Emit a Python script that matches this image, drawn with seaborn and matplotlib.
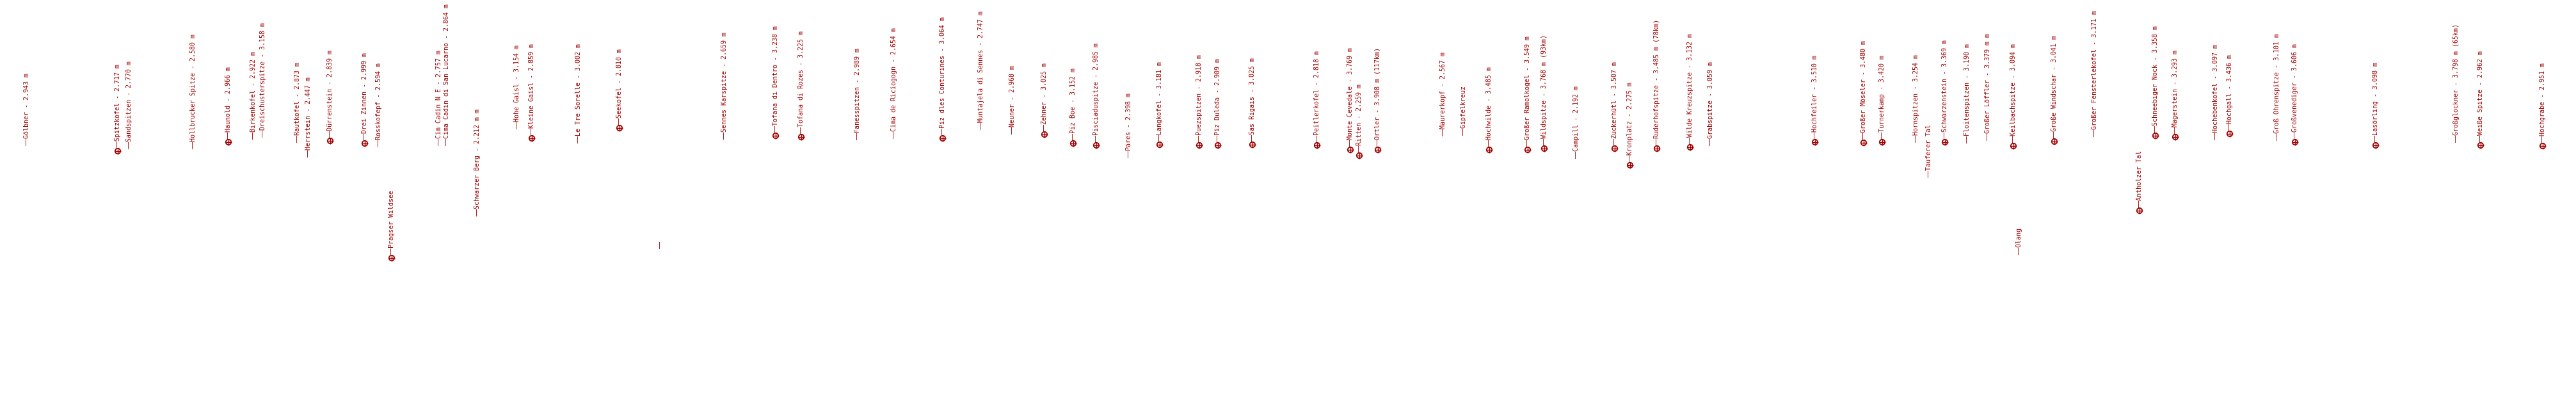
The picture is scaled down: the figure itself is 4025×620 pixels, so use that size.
import matplotlib
matplotlib.use("Agg")
import matplotlib.pyplot as plt
import seaborn as sns
import pandas as pd

# Peak labels along the panorama: name, horizontal position, label foot, has marker
names = [
    "Gölbner - 2.943 m", "Spitzkofel - 2.717 m", "Sandspitzen - 2.770 m",
    "Hollbrucker Spitze - 2.580 m", "Haunold - 2.966 m", "Birkenkofel - 2.922 m",
    "Dreischusterspitze - 3.158 m", "Rautkofel - 2.873 m", "Herrstein - 2.447 m",
    "Dürrenstein - 2.839 m", "Drei Zinnen - 2.999 m", "Rosskofepf - 2.594 m",
    "Pragser Wildsee", "Cim Cadin N E - 2.757 m", "Cima Cadin di San Lucarno - 2.864 m",
    "Schwarzer Berg - 2.212 m m", "Hohe Gaisl - 3.154 m", "Kleine Gaisl - 2.859 m",
    "Le Tre Sorelle - 3.002 m", "Seekofel - 2.810 m", "",
    "Sennes Karspitze - 2.659 m", "Tofana di Dentro - 3.238 m", "Tofana di Rozes - 3.225 m",
    "Fanesspitzen - 2.989 m", "Cima de Riciogogn - 2.654 m", "Piz dles Conturines - 3.064 m",
    "Muntajela di Sennes - 2.747 m", "Neuner - 2.968 m", "Zehner - 3.025 m",
    "Piz Boe - 3.152 m", "Pisciaduspitze - 2.985 m", "Pares - 2.398 m",
    "Langkofel - 3.181 m", "Puezspitzen - 2.918 m", "Piz Duleda - 2.909 m",
    "Sas Rigais - 3.025 m", "Peitlerkofel - 2.818 m", "Monte Cevedale - 3.769 m",
    "Ritten - 2.259 m", "Ortler - 3.908 m (117km)", "Maurerkopf - 2.567 m",
    "Gipfelkreuz", "Hochwilde - 3.485 m", "Großer Ramolkogel - 3.549 m",
    "Wildspitze - 3.768 m (93km)", "Campill - 2.192 m", "Zuckerhütl - 3.507 m",
    "Kronplatz - 2.275 m", "Ruderhofspitze - 3.485 m (78km)", "Wilde Kreuzspitze - 3.132 m",
    "Grabspitze - 3.059 m", "Hochfeiler - 3.510 m", "Großer Möseler - 3.480 m",
    "Turnerkamp - 3.420 m", "Hornspitzen - 3.254 m", "Tauferer Tal",
    "Schwarzenstein - 3.369 m", "Floitenspitzen - 3.190 m", "Großer Löffler - 3.379 m m",
    "Keilbachspitze - 3.094 m", "Olang", "Große Windschar - 3.041 m",
    "Großer Fensterlekofel - 3.171 m", "Antholzer Tal", "Schneebiger Nock - 3.358 m",
    "Magerstein - 3.293 m", "Hochebenkofel - 3.097 m", "Hochgall - 3.436 m",
    "Groß Ohrenspitze - 3.101 m", "Großvenediger - 3.606 m", "Lasörling - 3.098 m",
    "Großglockner - 3.798 m (65km)", "Weiße Spitze - 2.962 m", "Hochgrabe - 2.951 m",
]
xpos = [
    42, 184, 202, 302, 357, 396, 411, 465, 482, 516, 570, 592,
    612, 686, 698, 746, 808, 831, 904, 968, 1032,
    1132, 1212, 1252, 1340, 1397, 1473, 1533, 1582, 1632,
    1677, 1713, 1764, 1812, 1874, 1903, 1957, 2058, 2110,
    2124, 2153, 2255, 2287, 2327, 2387, 2413, 2463, 2523,
    2547, 2589, 2641, 2673, 2836, 2912, 2941, 2994, 3014,
    3039, 3074, 3106, 3146, 3155, 3210, 3273, 3343, 3368,
    3399, 3462, 3484, 3558, 3586, 3712, 3838, 3876, 3973,
]
ypos = [
    228, 236, 233, 233, 222, 218, 215, 223, 246, 220, 224, 230,
    403, 228, 228, 338, 202, 216, 224, 200, 389,
    218, 212, 214, 219, 217, 216, 203, 210, 210,
    224, 227, 247, 226, 227, 227, 226, 227, 234,
    243, 234, 213, 212, 234, 234, 232, 248, 232,
    258, 232, 230, 228, 222, 223, 222, 223, 278,
    222, 224, 220, 228, 398, 221, 214, 329, 212,
    214, 219, 209, 220, 222, 227, 223, 227, 228,
]
marked = [
    0, 1, 0, 0, 1, 0, 0, 0, 0, 1, 1, 0,
    1, 0, 0, 0, 0, 1, 0, 1, 0,
    0, 1, 1, 0, 0, 1, 0, 0, 1,
    1, 1, 0, 1, 1, 1, 1, 1, 1,
    1, 1, 0, 0, 1, 1, 1, 0, 1,
    1, 1, 1, 0, 1, 1, 1, 0, 0,
    1, 0, 0, 1, 0, 1, 0, 1, 1,
    1, 0, 1, 0, 1, 1, 0, 1, 1,
]

RED = "#a00000"

df = pd.DataFrame({"name": names, "x": xpos, "y": ypos, "marked": marked})

fig = plt.figure(figsize=(40.25, 6.2), dpi=100)
ax = fig.add_axes([0, 0, 1, 1])
sns.set_style("white")

pts = df[df["marked"] == 1]
sns.scatterplot(data=pts, x="x", y="y", ax=ax, marker="o", s=36,
                facecolor="none", edgecolor=RED, linewidth=1.3, legend=False)
sns.scatterplot(data=pts, x="x", y="y", ax=ax, marker="+", s=45,
                color=RED, linewidth=1.0, legend=False)

for _, r in df.iterrows():
    foot = r["y"] - 4 if r["marked"] else r["y"]
    ax.text(r["x"], foot, "\u2500\u2500" + r["name"], rotation=90, ha="center",
            va="bottom", color=RED, fontsize=7.2, family="DejaVu Sans Mono")

ax.set_xlim(0, 4025)
ax.set_ylim(620, 0)
ax.axis("off")

fig.savefig("out.png", dpi=100, facecolor="white")
